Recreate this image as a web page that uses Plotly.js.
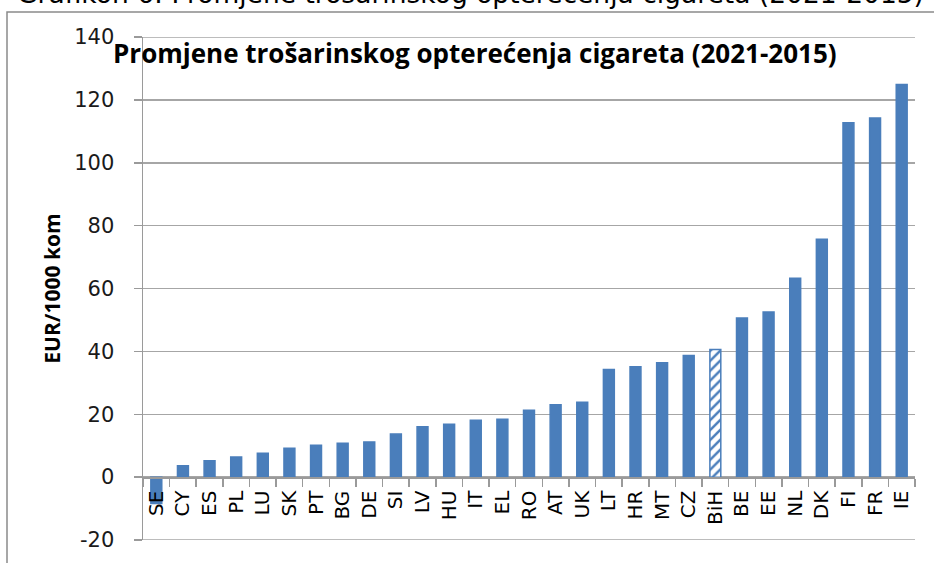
<!DOCTYPE html>
<html>
<head>
<meta charset="utf-8">
<script src="https://cdn.plot.ly/plotly-3.0.1.min.js"></script>
<style>html,body{margin:0;padding:0;background:#fff;}#chart{width:934px;height:563px;}</style>
</head>
<body>
<div id="chart"></div>
<script>
const categories = ["SE","CY","ES","PL","LU","SK","PT","BG","DE","SI","LV","HU","IT","EL","RO","AT","UK","LT","HR","MT","CZ","BiH","BE","EE","NL","DK","FI","FR","IE"];
const values = [-8.4,3.6,5.2,6.4,7.6,9.2,10.1,10.8,11.2,13.7,16.0,16.8,18.1,18.4,21.3,23.0,23.8,34.2,35.1,36.4,38.7,40.6,50.6,52.5,63.3,75.7,112.7,114.2,124.9];
const highlighted = "BiH";
const yTicks = [-20,0,20,40,60,80,100,120,140];
const chartTitle = "Promjene trošarinskog opterećenja cigareta (2021-2015)";
const captionText = "Grafikon 6: Promjene trošarinskog opterećenja cigareta (2021-2015)";
const yTitle = "EUR/1000 kom";

const blue = "#4A7EBB";
const gridColor = "#a6a6a6";
const shapes = categories.map(c => c === highlighted ? "/" : "");

const trace = {
  type: "bar",
  x: categories,
  y: values,
  marker: {
    color: blue,
    line: {color: blue, width: 1.5},
    pattern: {shape: shapes, fgcolor: blue, bgcolor: "#ffffff", size: 7, solidity: 0.35, fillmode: "replace"}
  },
  hoverinfo: "x+y"
};

const yMin = yTicks[0], yMax = yTicks[yTicks.length - 1];
const zeroPos = (0 - yMin) / (yMax - yMin);

const layout = {
  width: 934, height: 563,
  margin: {l: 143, r: 19, t: 37, b: 23, pad: 0},
  paper_bgcolor: "#ffffff", plot_bgcolor: "#ffffff",
  showlegend: false,
  bargap: 0.59,
  font: {family: "DejaVu Sans", color: "#000"},
  xaxis: {
    type: "category",
    anchor: "free", position: zeroPos,
    showline: true, linecolor: "#9a9a9a", linewidth: 1.5,
    ticks: "outside", ticklen: 8, tickcolor: "#9a9a9a", tickwidth: 1.5,
    tickson: "boundaries",
    tickangle: -90,
    ticklabelstandoff: 4,
    tickfont: {family: "DejaVu Sans", size: 20, color: "#000"},
    showgrid: false, zeroline: false, fixedrange: true
  },
  yaxis: {
    range: [yMin, yMax],
    tickvals: yTicks,
    ticktext: yTicks.map(String),
    showline: true, linecolor: "#9a9a9a", linewidth: 1.5,
    ticks: "outside", ticklen: 8, tickcolor: "#9a9a9a", tickwidth: 1.5,
    ticklabelstandoff: 15,
    tickfont: {family: "DejaVu Sans", size: 21, color: "#1a1a1a"},
    showgrid: true, gridcolor: gridColor, gridwidth: 1.5,
    zeroline: false, fixedrange: true,
    title: {text: yTitle, font: {family: "Open Sans", size: 21, color: "#000", weight: "bold"}, standoff: 8}
  },
  annotations: [
    {xref: "paper", yref: "paper", x: (111 - 143) / 772, y: (540 - 33) / 503, xanchor: "left", yanchor: "top",
     text: "<b>" + chartTitle + "</b>", showarrow: false,
     font: {family: "Open Sans", size: 26, color: "#000"}},
    {xref: "paper", yref: "paper", x: (15 - 143) / 772, y: (540 - 11) / 503, xanchor: "left", yanchor: "bottom",
     text: captionText, showarrow: false,
     font: {family: "DejaVu Sans", size: 26.5, color: "#000"}}
  ],
  shapes: [
    {type: "line", xref: "paper", yref: "y", x0: 0, x1: 1, y0: yMin, y1: yMin,
     line: {color: gridColor, width: 1.5}, layer: "below"},
    {type: "line", xref: "paper", yref: "y", x0: 0, x1: 1, y0: yMax, y1: yMax,
     line: {color: gridColor, width: 1.5}, layer: "below"},
    {type: "rect", xref: "paper", yref: "paper", x0: (7 - 143) / 772, x1: 1.1, y0: -0.2, y1: (540 - 12) / 503,
     line: {color: "#8a8a8a", width: 1.5}, fillcolor: "rgba(0,0,0,0)", layer: "below"}
  ]
};

Plotly.newPlot("chart", [trace], layout, {displayModeBar: false, staticPlot: true});
</script>
</body>
</html>
